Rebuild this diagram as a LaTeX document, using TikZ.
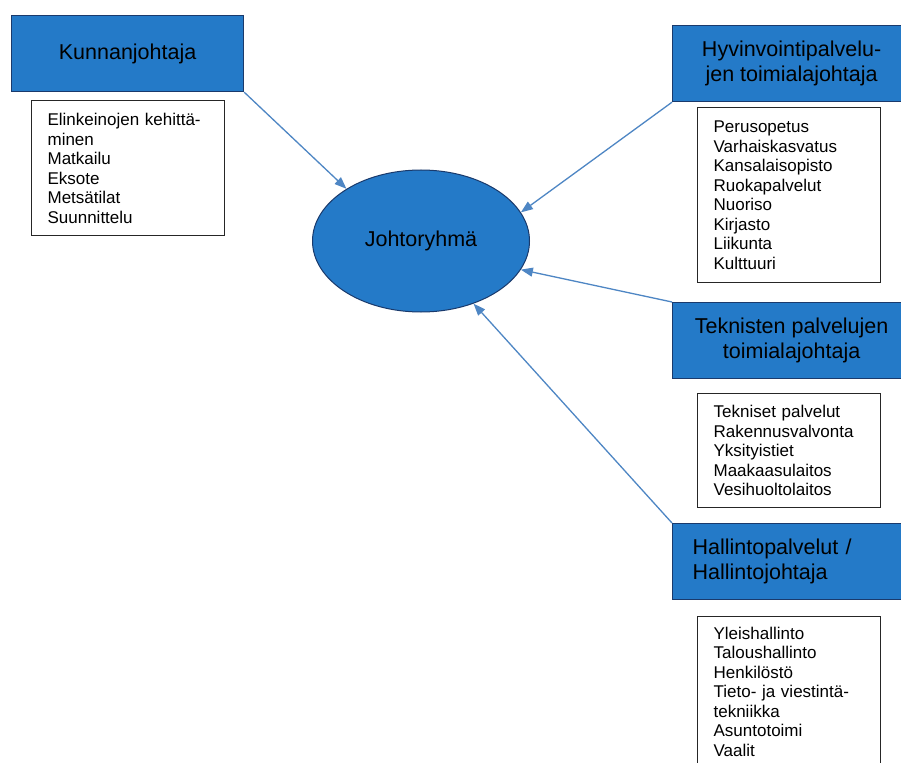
\documentclass[tikz,border=0pt]{standalone}
\usepackage{fontspec}
\setmainfont{Liberation Sans}
\usetikzlibrary{arrows.meta}
\usetikzlibrary{shapes.geometric}
\usetikzlibrary{positioning}

\definecolor{boxblue}{RGB}{36,122,200}
\definecolor{edgeblue}{RGB}{26,58,108}
\definecolor{linkblue}{RGB}{78,134,196}

\begin{document}
\begin{tikzpicture}[x=1pt, y=-1pt,
  head/.style={draw=edgeblue, line width=1.2pt, fill=boxblue, inner sep=0pt,
    minimum height=76pt, align=center, anchor=north west,
    font=\fontsize{21.5}{25}\selectfont},
  list/.style={draw=black!85, line width=1.2pt, fill=white, align=left,
    inner xsep=16pt, inner ysep=0pt, font=\fontsize{17}{19.5}\selectfont},
  link/.style={-{Triangle[length=12pt,width=9pt]}, draw=linkblue, line width=1.3pt}]
  \useasboundingbox [fill=white] (0,0) rectangle (901,762);

  \node (jr) [ellipse, draw=edgeblue, line width=1pt, fill=boxblue, inner sep=0pt,
    minimum width=217pt, minimum height=142pt, font=\fontsize{21.5}{25}\selectfont]
    at (421,241) {Johtoryhmä};

  \node (kj) [head, minimum width=232pt] at (11,15) {Kunnanjohtaja};
  \node (kjList) [list, text width=161pt, minimum height=135pt,
    below right=8pt and 20pt of kj.south west]
    {Elinkeinojen kehittä-\\minen\\Matkailu\\Eksote\\Metsätilat\\Suunnittelu};

  \node (hv) [head, minimum width=238pt] at (672,25) {Hyvinvointipalvelu-\\jen toimialajohtaja};
  \node (hvList) [list, text width=151pt, minimum height=175pt,
    below right=5pt and 25pt of hv.south west]
    {Perusopetus\\Varhaiskasvatus\\Kansalaisopisto\\Ruokapalvelut\\Nuoriso\\Kirjasto\\Liikunta\\Kulttuuri};

  \node (tp) [head, minimum width=238pt] at (672,302) {Teknisten palvelujen\\toimialajohtaja};
  \node (tpList) [list, text width=151pt, minimum height=114pt,
    below right=14pt and 25pt of tp.south west]
    {Tekniset palvelut\\Rakennusvalvonta\\Yksityistiet\\Maakaasulaitos\\Vesihuoltolaitos};

  \node (hp) [head, align=left, inner xsep=20pt, text width=198pt] at (672,523)
    {Hallintopalvelut /\\Hallintojohtaja};
  \node (hpList) [list, text width=151pt, minimum height=150pt,
    below right=16pt and 25pt of hp.south west]
    {Yleishallinto\\Taloushallinto\\Henkilöstö\\Tieto- ja viestintä-\\tekniikka\\Asuntotoimi\\Vaalit};

  \draw [link] (kj.south east) -- (jr.145);
  \draw [link] (hv.south west) -- (jr.16);
  \draw [link] (tp.north west) -- (jr.-16);
  \draw [link] (hp.north west) -- (jr.-50);
\end{tikzpicture}
\end{document}
